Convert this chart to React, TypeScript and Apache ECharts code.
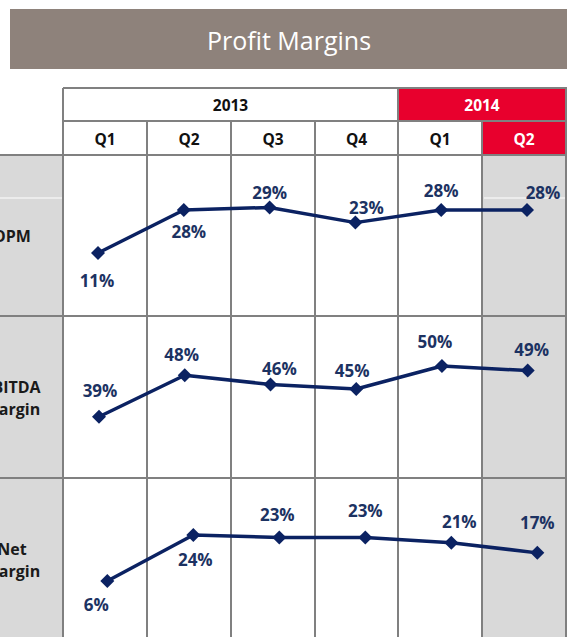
import React, { useEffect, useRef } from "react";
import * as echarts from "echarts";

// ---- data ----
const years = ["2013", "2014"];
const quarters = ["Q1", "Q2", "Q3", "Q4", "Q1", "Q2"];
const rowLabels = ["OPM", "EBITDA\nMargin", "Net\nMargin"];
const opm = [11, 28, 29, 23, 28, 28];
const ebitda = [39, 48, 46, 45, 50, 49];
const netMargin = [6, 24, 23, 23, 21, 17];

// ---- layout (label offsets relative to point) ----
const opmOffsets = [[-1, 28], [5, 22], [0, -15], [11, -15], [0, -19], [16, -17]];
const ebitdaOffsets = [[1, -26], [-3, -21], [9, -16], [-4, -19], [-7, -25], [4, -21]];
const netOffsets = [[-11, 24], [2, 25], [-2, -23], [0, -27], [8, -21], [0, -30]];

const FONT = "'Open Sans', 'Noto Sans', sans-serif";
const NAVY_LINE = "#0b2262";
const NAVY_TEXT = "#1c3262";
const RED = "#e8002d";
const GRID_GRAY = "#808080";
const FILL_GRAY = "#d9d9d9";

const colX = [63, 147, 231, 315, 398, 482, 566];

export default function App() {
  const ref = useRef<HTMLDivElement>(null);

  useEffect(() => {
    if (!ref.current) return;
    const chart = echarts.init(ref.current, null, { renderer: "svg" });

    const graphics: any[] = [];
    // title bar
    graphics.push({ type: "rect", shape: { x: 10, y: 9, width: 557, height: 60 }, style: { fill: "#8e827b" }, z: 0 });
    graphics.push({
      type: "text", x: 289, y: 40,
      style: { text: "Profit Margins", fill: "#ffffff", font: `400 25px ${FONT}`, textAlign: "center", textVerticalAlign: "middle" },
      z: 1,
    });
    // fills
    graphics.push({ type: "rect", shape: { x: 0, y: 155, width: 63, height: 482 }, style: { fill: FILL_GRAY }, z: 0 });
    graphics.push({ type: "rect", shape: { x: 482, y: 155, width: 84, height: 482 }, style: { fill: FILL_GRAY }, z: 0 });
    graphics.push({ type: "rect", shape: { x: 398, y: 88, width: 168, height: 33 }, style: { fill: RED }, z: 0 });
    graphics.push({ type: "rect", shape: { x: 482, y: 121, width: 84, height: 34 }, style: { fill: RED }, z: 0 });
    // thin white lines
    graphics.push({ type: "line", shape: { x1: 0, y1: 198, x2: 62, y2: 198 }, style: { stroke: "#ffffff", lineWidth: 1 }, z: 1 });
    graphics.push({ type: "line", shape: { x1: 484, y1: 198, x2: 565, y2: 198 }, style: { stroke: "#ffffff", lineWidth: 1 }, z: 1 });
    // horizontal borders
    [[88, 63], [121, 63], [155, 0], [316, 0], [478, 0]].forEach(([y, x0]) => {
      graphics.push({ type: "line", shape: { x1: x0, y1: y, x2: 567, y2: y }, style: { stroke: GRID_GRAY, lineWidth: 2 }, z: 2 });
    });
    // vertical borders
    colX.forEach((x, i) => {
      const full = i === 0 || i === 4 || i === 6;
      graphics.push({ type: "line", shape: { x1: x, y1: full ? 88 : 121, x2: x, y2: 637 }, style: { stroke: GRID_GRAY, lineWidth: 2 }, z: 2 });
    });
    // header texts
    graphics.push({
      type: "text", x: (63 + 398) / 2, y: 105,
      style: { text: years[0], fill: "#111111", font: `700 15.5px ${FONT}`, textAlign: "center", textVerticalAlign: "middle" }, z: 3,
    });
    graphics.push({
      type: "text", x: (398 + 566) / 2, y: 105,
      style: { text: years[1], fill: "#ffffff", font: `700 15.5px ${FONT}`, textAlign: "center", textVerticalAlign: "middle" }, z: 3,
    });
    quarters.forEach((q, i) => {
      graphics.push({
        type: "text", x: (colX[i] + colX[i + 1]) / 2, y: 138.5,
        style: { text: q, fill: i === 5 ? "#ffffff" : "#111111", font: `700 15.5px ${FONT}`, textAlign: "center", textVerticalAlign: "middle" }, z: 3,
      });
    });
    // row labels
    const rowY = [236, 398, 560];
    rowLabels.forEach((t, i) => {
      graphics.push({
        type: "text", x: 12, y: rowY[i],
        style: { text: t, fill: "#1a1a1a", font: `700 16px ${FONT}`, textAlign: "center", textVerticalAlign: "middle", lineHeight: 22 }, z: 3,
      });
    });

    const grids = [
      { left: 98, width: 429, top: 154.3, height: 126.5 },
      { left: 99, width: 428.7, top: 319.9, height: 138.3 },
      { left: 107.3, width: 430, top: 494.1, height: 102.2 },
    ];
    const yRanges = [[0, 50], [30, 60], [0, 40]];
    const series = [opm, ebitda, netMargin];
    const offsets = [opmOffsets, ebitdaOffsets, netOffsets];

    chart.setOption({
      animation: false,
      graphic: { elements: graphics },
      grid: grids.map((g) => ({ ...g, containLabel: false, show: false })),
      xAxis: grids.map((_, i) => ({
        type: "category", gridIndex: i, data: quarters, boundaryGap: false, show: false,
      })),
      yAxis: grids.map((_, i) => ({
        type: "value", gridIndex: i, min: yRanges[i][0], max: yRanges[i][1], show: false, splitLine: { show: false },
      })),
      series: series.map((vals, i) => ({
        type: "line",
        xAxisIndex: i,
        yAxisIndex: i,
        z: 5,
        symbol: "diamond",
        symbolSize: 14,
        lineStyle: { color: NAVY_LINE, width: 3.5 },
        itemStyle: { color: NAVY_LINE },
        label: {
          show: true,
          position: "inside",
          formatter: "{c}%",
          color: NAVY_TEXT,
          fontFamily: FONT,
          fontWeight: "bold",
          fontSize: 17,
        },
        data: vals.map((v, j) => ({ value: v, label: { offset: offsets[i][j] } })),
      })),
    });

    return () => chart.dispose();
  }, []);

  return <div ref={ref} style={{ position: "absolute", left: 0, top: 0, width: 568, height: 637 }} />;
}
